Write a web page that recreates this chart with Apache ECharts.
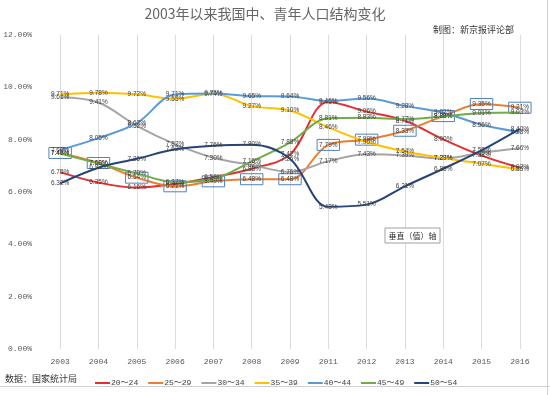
<!DOCTYPE html>
<html>
<head>
<meta charset="utf-8">
<script src="https://cdn.jsdelivr.net/npm/echarts@6/dist/echarts.min.js"></script>
<style>
html,body{margin:0;padding:0;background:#fff;}
#c{width:550px;height:395px;}
</style>
</head>
<body>
<div id="c"></div>
<script>
const years = ['2003','2004','2005','2006','2007','2008','2009','2011','2012','2013','2014','2015','2016'];
const seriesNames = ['20～24','25～29','30～34','35～39','40～44','45～49','50～54'];
const s20_24 = [6.75, 6.35, 6.16, 6.30, 6.56, 6.88, 7.42, 9.43, 9.06, 8.71, 8.00, 7.38, 6.92];
const s25_29 = [7.48, 7.10, 6.54, 6.21, 6.40, 6.48, 6.48, 7.79, 7.99, 8.33, 8.89, 9.35, 9.21];
const s30_34 = [9.61, 9.41, 8.52, 7.82, 7.30, 7.02, 6.76, 7.17, 7.43, 7.39, 7.27, 7.49, 7.66];
const s35_39 = [9.71, 9.78, 9.72, 9.55, 9.74, 9.27, 9.10, 8.46, 7.90, 7.54, 7.29, 7.07, 6.85];
const s40_44 = [7.60, 8.05, 8.62, 9.71, 9.75, 9.65, 9.64, 9.46, 9.56, 9.28, 9.02, 8.56, 8.28];
const s45_49 = [7.46, 7.08, 6.70, 6.37, 6.49, 7.16, 7.88, 8.81, 8.83, 8.77, 8.88, 9.01, 9.03];
const s50_54 = [6.32, 6.92, 7.26, 7.62, 7.76, 7.80, 7.26, 5.43, 5.51, 6.21, 6.88, 7.58, 8.40];
const seriesData = [s20_24, s25_29, s30_34, s35_39, s40_44, s45_49, s50_54];
const colors = ['#E2302E', '#ED7D31', '#A5A5A5', '#FFC000', '#5B9BD5', '#70AD47', '#264478'];

const chart = echarts.init(document.getElementById('c'), null, {renderer: 'canvas'});
const pct = v => Number(v).toFixed(2) + '%';

const series = seriesNames.map((name, i) => ({
  name: name,
  type: 'line',
  data: seriesData[i],
  smooth: 0.35,
  symbol: 'circle',
  symbolSize: 0.01,
  showSymbol: true,
  lineStyle: {width: 2, color: colors[i]},
  itemStyle: {color: colors[i]},
  z: 2 + i,
  label: Object.assign({
    show: true,
    position: 'inside',
    formatter: p => pct(p.value),
    fontSize: 6.5,
    fontFamily: 'Liberation Sans',
    color: '#404040'
  }, i === 1 ? {borderColor: '#4F81BD', borderWidth: 1, padding: [2, 2]} : {})
}));

chart.setOption({
  animation: false,
  backgroundColor: '#ffffff',
  color: colors,
  title: {
    text: '2003年以来我国中、青年人口结构变化',
    left: 260, top: 2, textAlign: 'center',
    textStyle: {fontSize: 14, fontWeight: 'normal', color: '#666666', fontFamily: 'Noto Sans CJK SC'}
  },
  grid: {left: 41, right: 11, top: 34.6, bottom: 46, containLabel: false},
  legend: {
    left: 90, top: 374,
    icon: 'rect', itemWidth: 15, itemHeight: 2, itemGap: 10,
    textStyle: {fontSize: 8, fontFamily: 'Liberation Mono, Noto Sans CJK SC', color: '#404040', padding: [0, 0, 0, -4]},
    data: seriesNames
  },
  xAxis: {
    type: 'category',
    data: years,
    boundaryGap: true,
    axisLine: {show: false},
    axisTick: {show: false},
    axisLabel: {fontSize: 8, fontFamily: 'Liberation Mono', color: '#595959', margin: 9},
    splitLine: {show: true, alignWithLabel: true, lineStyle: {color: '#dcdcdc', width: 1}}
  },
  yAxis: {
    type: 'value',
    min: 0, max: 12, interval: 2,
    axisLine: {show: false},
    axisTick: {show: false},
    splitLine: {show: false},
    axisLabel: {fontSize: 8, fontFamily: 'Liberation Mono', color: '#595959', margin: 9, formatter: v => pct(v)}
  },
  graphic: [
    {type: 'text', left: 433, top: 25, style: {text: '制图：新京报评论部', fontSize: 9, fontFamily: 'Noto Sans CJK SC', fill: '#333'}},
    {type: 'text', left: 5, top: 374, style: {text: '数据：国家统计局', fontSize: 9, fontFamily: 'Noto Sans CJK SC', fill: '#333'}},
    {type: 'rect', shape: {x: 385, y: 228, width: 55, height: 15}, style: {fill: '#fff', stroke: '#a0a0a0', lineWidth: 1}, z: 100},
    {type: 'text', x: 412.5, y: 235.5, style: {text: '垂直（值）轴', fontSize: 8, fontFamily: 'Noto Sans CJK SC', fill: '#333', align: 'center', verticalAlign: 'middle'}, z: 101},
    {type: 'line', shape: {x1: 0, y1: 386.5, x2: 550, y2: 386.5}, style: {stroke: '#d0d0d0', lineWidth: 1}},
    {type: 'line', shape: {x1: 547.5, y1: 0, x2: 547.5, y2: 395}, style: {stroke: '#d0d0d0', lineWidth: 1}}
  ],
  series: series
});
</script>
</body>
</html>
